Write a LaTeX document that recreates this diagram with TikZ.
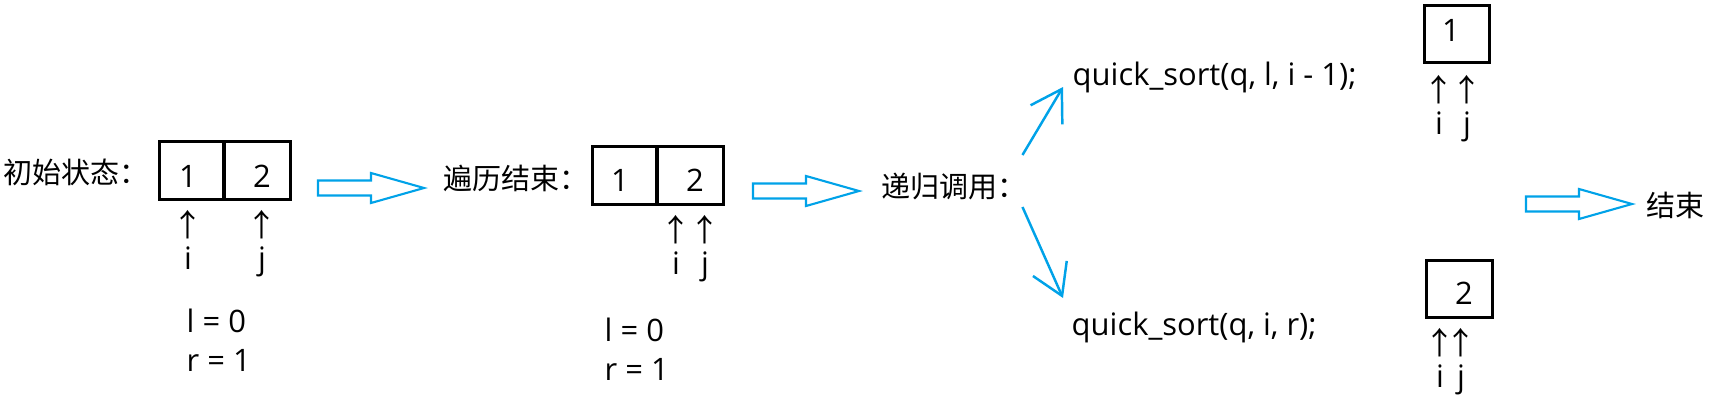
\documentclass[tikz,border=0pt]{standalone}
\usepackage{fontspec}
\setmainfont{Open Sans}
\newfontfamily\cjk{Noto Sans CJK SC}
\usetikzlibrary{arrows.meta, calc}

\definecolor{paintblue}{RGB}{0,162,232}

\tikzset{
  every node/.style={font=\fontsize{8.8}{11}\selectfont, inner sep=0pt},
  zh/.style={font=\fontsize{8.25}{11}\selectfont\cjk, anchor=west},
  cell/.style={draw, line width=0.85pt, minimum height=0.57cm},
  ptr/.style={align=center, anchor=north, font=\fontsize{8.8}{9.4}\selectfont},
  vals/.style={align=left, anchor=north west, font=\fontsize{8.8}{11.1}\selectfont},
  call/.style={draw=paintblue, line width=0.7pt, -{Straight Barb[length=3mm, width=3.7mm]}},
  fatarrow/.pic={
    \draw[paintblue, line width=0.6pt] (-53,-7.5) -- (0,-7.5) -- (0,-15) -- (53,0)
      -- (0,15) -- (0,7.5) -- (-53,7.5) -- cycle;
  },
}
\newcommand{\up}{\makebox[0pt]{\cjk ↑}}

\begin{document}
\begin{tikzpicture}[x=0.01cm, y=-0.01cm]
  \useasboundingbox (0,0) rectangle (1716,403);

  % initial state
  \node[zh] (init) at (3,172) {初始状态：};
  \node[cell, minimum width=0.64cm] (a1) at (192,170.5) {};
  \node[cell, minimum width=0.66cm] (a2) at (257,170.5) {};
  \node (a1v) at (188,176) {1};
  \node (a2v) at (262,176) {2};
  \node[ptr] (ai) at (188,210) {\up\\i};
  \node[ptr] (aj) at (262,210) {\up\\j};
  \node[vals] (alr) at (186,308) {l = 0\\r = 1};

  \pic (arr1) at (371,188) {fatarrow};

  % after the loop
  \node[zh] (trav) at (443,178) {遍历结束：};
  \node[cell, minimum width=0.64cm] (b1) at (625,175.5) {};
  \node[cell, minimum width=0.66cm] (b2) at (690,175.5) {};
  \node (b1v) at (620,180.5) {1};
  \node (b2v) at (695,180.5) {2};
  \node[ptr] (bi) at (676,215) {\up\\i};
  \node[ptr] (bj) at (705,215) {\up\\j};
  \node[vals] (blr) at (604,317) {l = 0\\r = 1};

  \pic (arr2) at (806,191) {fatarrow};

  % recursion
  \node[zh] (rec) at (881,187) {递归调用：};
  \node[anchor=base west] (qs1) at (1072,85) {quick\_sort(q, l, i - 1);};
  \node[anchor=base west] (qs2) at (1071,335) {quick\_sort(q, i, r);};
  \draw[call] ($(rec.east)+(-5,-32)$) -- ($(qs1.base west)+(-9,2)$);
  \draw[call] ($(rec.east)+(-5,20)$) -- ($(qs2.base west)+(-8,-37)$);

  \node[cell, minimum width=0.65cm, minimum height=0.56cm] (s1) at (1456.5,34) {};
  \node (s1v) at (1451,30) {1};
  \node[ptr] (si) at (1439,75) {\up\\i};
  \node[ptr] (sj) at (1467,75) {\up\\j};

  \node[cell, minimum width=0.66cm, minimum height=0.56cm] (t1) at (1459,289) {};
  \node (t1v) at (1464,293) {2};
  \node[ptr] (ti) at (1440,328) {\up\\i};
  \node[ptr] (tj) at (1461,328) {\up\\j};

  \pic (arr3) at (1579,204) {fatarrow};
  \node[zh] (fin) at (1646,205) {结束};
\end{tikzpicture}
\end{document}
